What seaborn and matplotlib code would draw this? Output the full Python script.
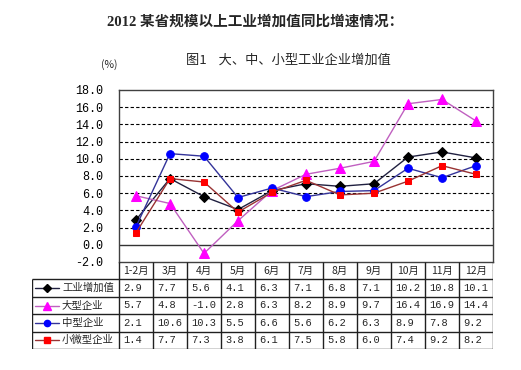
import matplotlib
matplotlib.use("Agg")
import matplotlib.pyplot as plt
import numpy as np
import pandas as pd
import seaborn as sns

sns.set_theme(style="white")
plt.rcParams["font.family"] = ["Noto Sans CJK SC", "DejaVu Sans"]

months = ["1-2月", "3月", "4月", "5月", "6月", "7月", "8月", "9月", "10月", "11月", "12月"]
series_names = ["工业增加值", "大型企业", "中型企业", "小微型企业"]
industry = [2.9, 7.7, 5.6, 4.1, 6.3, 7.1, 6.8, 7.1, 10.2, 10.8, 10.1]
large = [5.7, 4.8, -1.0, 2.8, 6.3, 8.2, 8.9, 9.7, 16.4, 16.9, 14.4]
medium = [2.1, 10.6, 10.3, 5.5, 6.6, 5.6, 6.2, 6.3, 8.9, 7.8, 9.2]
small = [1.4, 7.7, 7.3, 3.8, 6.1, 7.5, 5.8, 6.0, 7.4, 9.2, 8.2]
yticks = [-2, 0, 2, 4, 6, 8, 10, 12, 14, 16, 18]

values = [industry, large, medium, small]
line_colors = ["#202040", "#c060c0", "#333399", "#993333"]
marker_colors = ["#000000", "#ff00ff", "#0000ff", "#ff0000"]
markers = ["D", "^", "o", "s"]
msizes = [5, 6.5, 5.5, 5]

W, H = 521, 370
fig = plt.figure(figsize=(W / 100, H / 100), dpi=100)
fig.patch.set_facecolor("white")

# main plot area
ax = fig.add_axes([119 / W, (H - 262) / H, 374 / W, 172 / H])
xpos = np.arange(len(months))
for name, vals, lc, mc, m, ms in zip(series_names, values, line_colors, marker_colors, markers, msizes):
    df = pd.DataFrame({"x": xpos, "y": vals})
    sns.lineplot(data=df, x="x", y="y", color=lc, linewidth=1.0, marker=m,
                 markersize=ms, markerfacecolor=mc, markeredgecolor=mc, ax=ax, zorder=3)

ax.set_xlim(-0.5, len(months) - 0.5)
ax.set_ylim(-2, 18)
ax.set_yticks(yticks)
ax.set_yticklabels([f"{v:.1f}" for v in yticks], family=["Liberation Mono", "DejaVu Sans"], fontsize=8.5)
ax.tick_params(axis="y", length=0, pad=11.5, colors="#000000")
ax.set_xticks([])
ax.set_xlabel("")
ax.set_ylabel("")
for v in yticks[2:-1]:
    ax.axhline(v, color="black", lw=0.8, ls=(0, (3, 2)), zorder=1)
ax.axhline(0, color="#333333", lw=1.0, zorder=2)
for s in ax.spines.values():
    s.set_color("#404040")
    s.set_linewidth(1.0)

# data table
tax = fig.add_axes([32 / W, (H - 349) / H, 461 / W, 87 / H])
cell = 374 / len(months)
xmin = -0.5 - 87 / cell
xmax = len(months) - 0.5
tax.set_xlim(xmin, xmax)
tax.set_ylim(0, 5)
tax.axis("off")
lc_tab = "#202020"
# category row
tax.vlines(np.arange(len(months) + 1) - 0.5, 4, 5, color=lc_tab, lw=1.0)
for i, mth in enumerate(months):
    tax.text(i, 4.5, mth, ha="center", va="center", fontsize=7.5)
# body rows
tax.hlines(np.arange(0, 5), xmin, xmax, color=lc_tab, lw=1.0)
tax.vlines([xmin] + list(np.arange(len(months) + 1) - 0.5), 0, 4, color=lc_tab, lw=1.0)
for r, (name, vals, lc, mc, m, ms) in enumerate(zip(series_names, values, line_colors, marker_colors, markers, msizes)):
    yc = 3.5 - r
    x0 = xmin + 3 / cell
    x1 = xmin + 27 / cell
    tax.plot([x0, x1], [yc, yc], color=lc, lw=1.0)
    tax.plot([(x0 + x1) / 2], [yc], marker=m, color=mc, markersize=ms - 1, markeredgecolor=mc)
    tax.text(xmin + 30 / cell, yc, name, ha="left", va="center", fontsize=7.5)
    for i, v in enumerate(vals):
        tax.text(i - 0.5 + 4 / cell, yc, f"{v:.1f}", ha="left", va="center",
                 fontsize=7.5, family=["Liberation Mono", "DejaVu Sans"])

# titles
fig.text(255 / W, 1 - 22 / H, "2012 某省规模以上工业增加值同比增速情况：", ha="center", va="center",
         fontsize=10.5, fontweight="bold", family=["Liberation Serif", "Noto Sans CJK SC"])
fig.text(288 / W, 1 - 60 / H, "图1    大、中、小型工业企业增加值", ha="center", va="center", fontsize=9.5)
fig.text(109 / W, 1 - 65 / H, "(%)", ha="center", va="center", fontsize=7.5)

fig.savefig("out.png", dpi=100)
